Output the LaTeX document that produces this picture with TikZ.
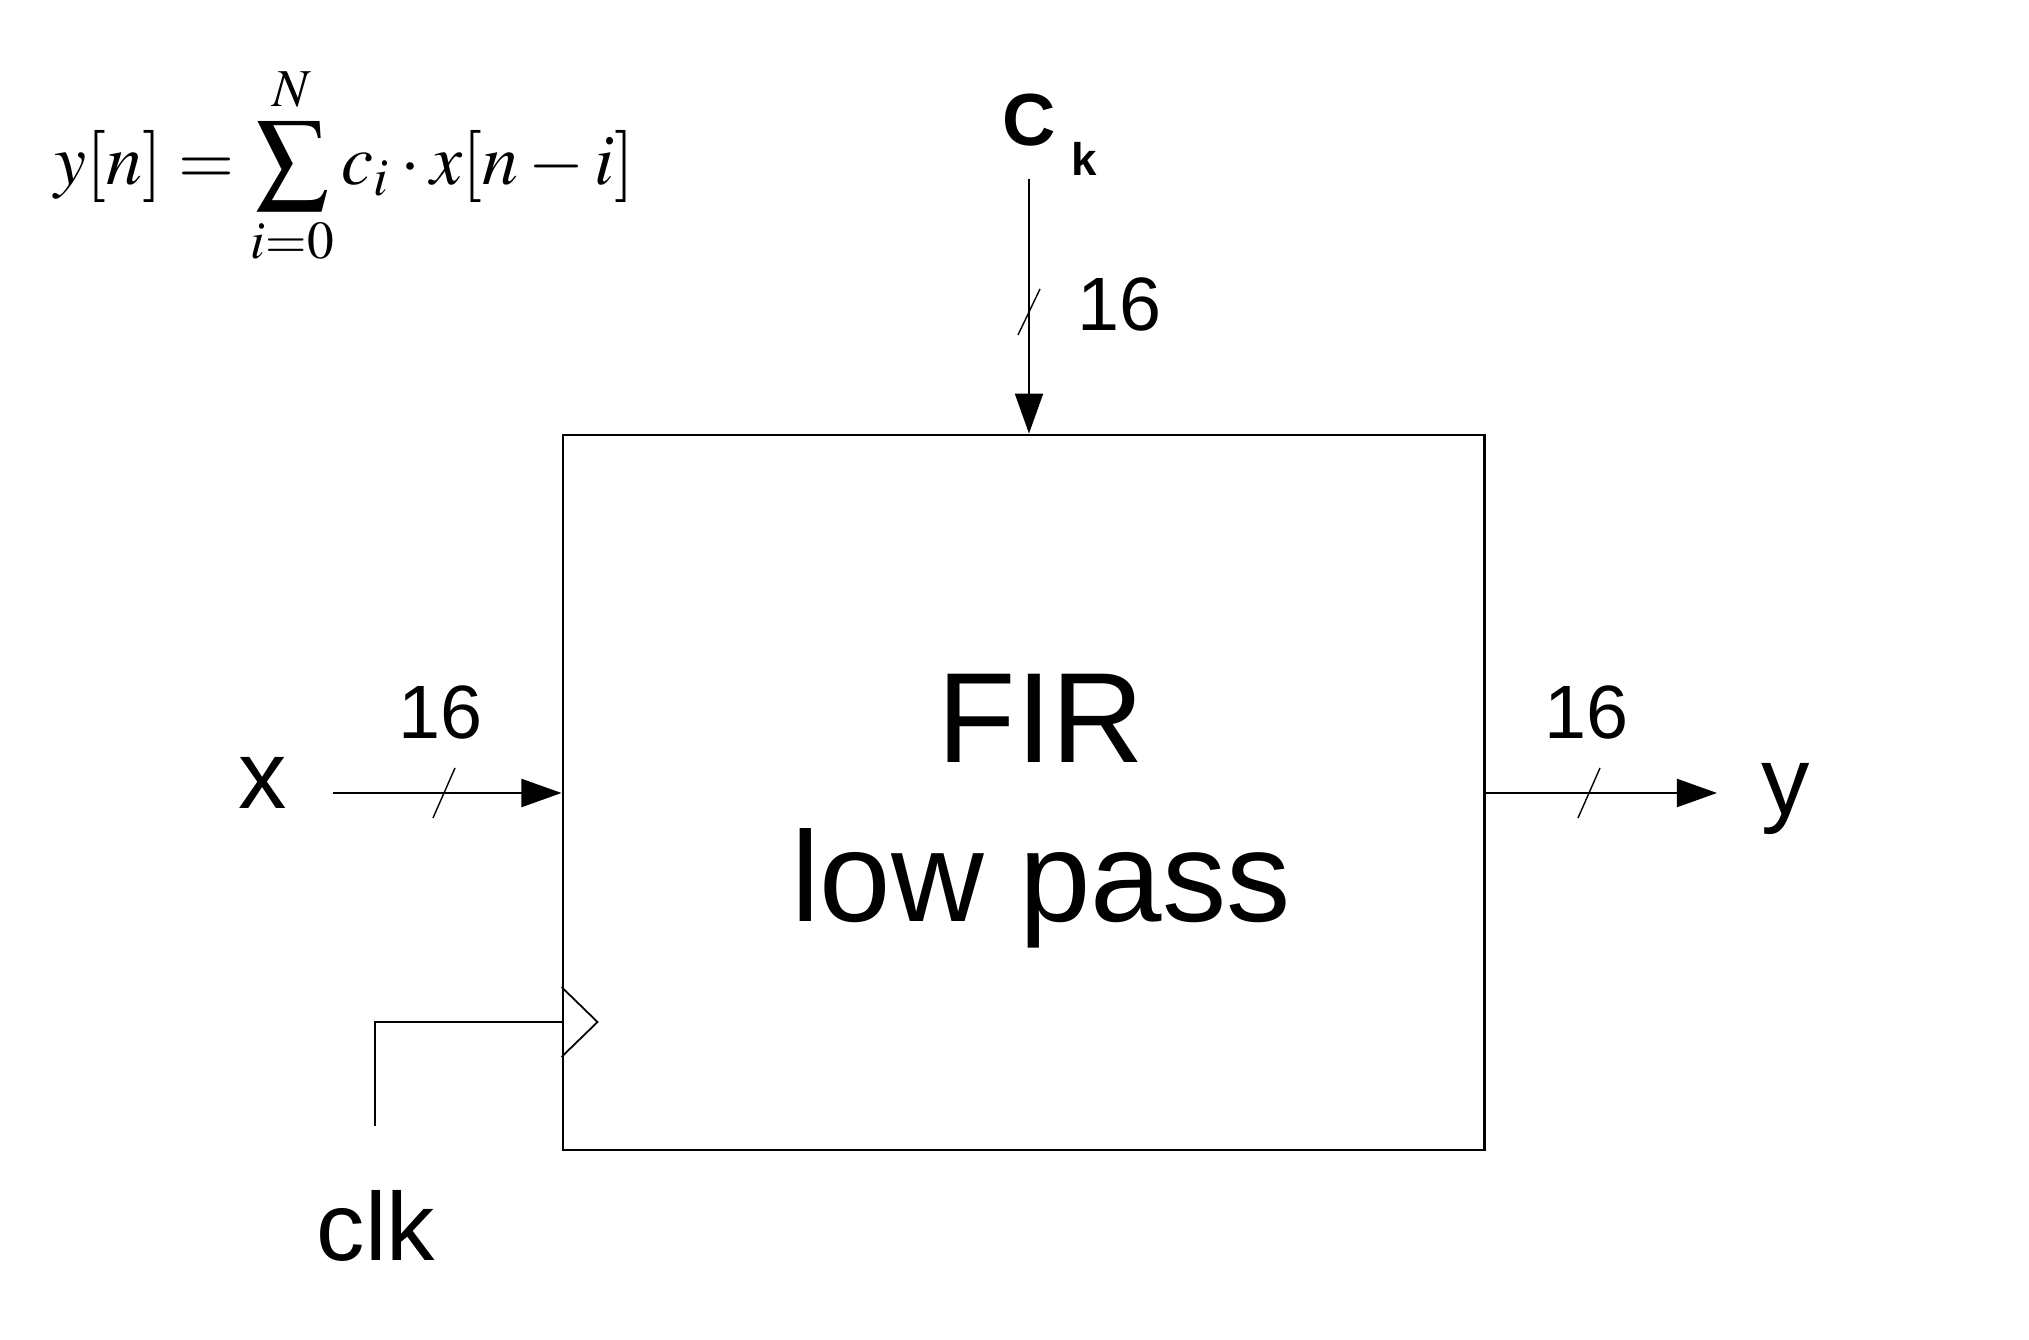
\documentclass[tikz,border=0pt]{standalone}
\usepackage{mathptmx}
\usepackage{fontspec}
\setmainfont{Liberation Sans}
\usetikzlibrary{arrows.meta}
\begin{document}
\begin{tikzpicture}[x=0.01cm,y=-0.01cm,
  wire/.style={line width=0.6pt},
  arr/.style={wire,-{Triangle[length=0.4cm,width=0.28cm]}},
  busslash/.style={line width=0.4pt},
  lbl/.style={inner sep=0pt},
  big/.style={lbl,font=\fontsize{36.5}{44}\selectfont},
  port/.style={lbl,font=\fontsize{27.5}{34}\selectfont},
  width/.style={lbl,font=\fontsize{21.5}{26}\selectfont}]
\useasboundingbox (0,0) rectangle (2029,1340);
% block
\node[draw, line width=0.7pt, minimum width=9.21cm, minimum height=7.15cm, inner sep=0pt] (fir) at (1023.5,792.5) {};
\node[big] (firtxt) at (1041,718) {FIR};
\node[big] (lowpass) at (1041,888) {low pass};
% formula
\node[lbl, anchor=west] (eq) at (54,166) {\fontsize{20.5}{25}\selectfont $\displaystyle y[n]=\sum_{i=0}^{N\rule[-2pt]{0pt}{0pt}} c_i\cdot x[n-i]$};
% coefficient input
\node[lbl, font=\fontsize{21}{25}\bfseries] (cC) at (1029,120) {C};
\node[lbl, font=\fontsize{13}{16}\bfseries] (ck) at (1084,159) {k};
\coordinate (cs) at (1029,179);
\draw[arr] (cs) -- (cs |- fir.north);
\draw[busslash] (1018,335) -- (1040,289);
\node[width] (c16) at (1120,304) {16};
% x input
\node[port] (xin) at (263,783) {x};
\coordinate (xs) at (333,793);
\draw[arr] (xs) -- (xs -| fir.west);
\draw[busslash] (433,818) -- (455,768);
\node[width] (x16) at (441,712) {16};
% y output
\coordinate (ye) at (1717,793);
\draw[arr] (ye -| fir.east) -- (ye);
\draw[busslash] (1578,818) -- (1600,768);
\node[width] (y16) at (1587,712) {16};
\node[port] (yout) at (1786,799) {y};
% clock
\coordinate (clkin) at (375,1126);
\coordinate (clkcorner) at (375,1022);
\draw[wire] (clkin) -- (clkcorner) -- (clkcorner -| fir.west);
\draw[line width=0.5pt] (clkcorner -| fir.west) ++(0,-35) -- ++(36,35) -- ++(-36,35);
\node[port] (clk) at (376,1226) {clk};
\end{tikzpicture}
\end{document}
